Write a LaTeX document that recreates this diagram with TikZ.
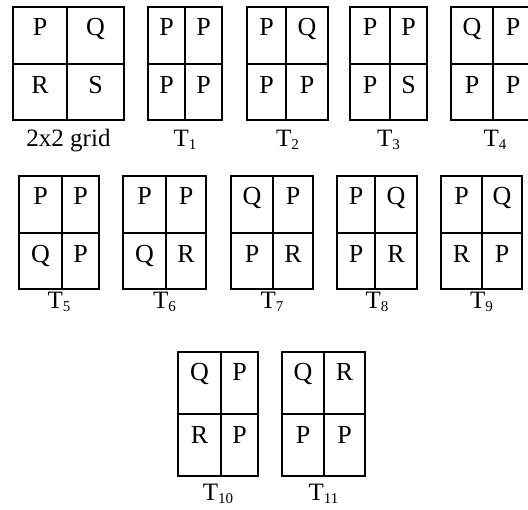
\documentclass[tikz,border=0pt]{standalone}
\usepackage{fontspec}
\setmainfont{Liberation Serif}
\tikzset{
  gridline/.style={line width=1.3pt, black},
  cell/.style={anchor=base, inner sep=0pt, font=\fontsize{26}{28}\selectfont},
  lab/.style={anchor=base, inner sep=0pt, font=\fontsize{25}{27}\selectfont},
}
\newcommand{\subx}[1]{{\fontsize{15}{15}\selectfont\raisebox{-3pt}{#1}}}
% #1 name, #2 x0, #3 xm, #4 x1, #5 label, #6-#9 letters (tl,tr,bl,br)
\newcommand{\tgrid}[9]{%
  \draw[gridline] (#2,\yA) rectangle (#4,\yC);
  \draw[gridline] (#3,\yA) -- (#3,\yC);
  \draw[gridline] (#2,\yB) -- (#4,\yB);
  \node[cell] (#1a) at ({(#2+#3)/2},{\yA+29}) {#6};
  \node[cell] (#1b) at ({(#3+#4)/2},{\yA+29}) {#7};
  \node[cell] (#1c) at ({(#2+#3)/2},{\yB+30}) {#8};
  \node[cell] (#1d) at ({(#3+#4)/2},{\yB+30}) {#9};
  \node[lab] (#1l) at ({(#2+#4)/2},\yL) {#5};
}
\begin{document}
\begin{tikzpicture}[x=1pt,y=-1pt]
\useasboundingbox (0,0) rectangle (528,510);
\clip (0,0) rectangle (528,510);
% row 1
\def\yA{7}\def\yB{64}\def\yC{120}\def\yL{147}
\tgrid{g}{13}{67}{124}{2x2 grid}{P}{Q}{R}{S}
\tgrid{ta}{148}{185}{222}{T\subx{1}}{P}{P}{P}{P}
\tgrid{tb}{247}{286}{328}{T\subx{2}}{P}{Q}{P}{P}
\tgrid{tc}{350}{390}{427}{T\subx{3}}{P}{P}{P}{S}
\draw[gridline] (451,\yA) rectangle (536,\yC);
\draw[gridline] (493,\yA) -- (493,\yC);
\draw[gridline] (451,\yB) -- (536,\yB);
\node[cell] (tda) at (472,{\yA+29}) {Q};
\node[cell] (tdb) at (513,{\yA+29}) {P};
\node[cell] (tdc) at (472,{\yB+30}) {P};
\node[cell] (tdd) at (513,{\yB+30}) {P};
\node[lab] (tdl) at (495,\yL) {T\subx{4}};
% row 2
\def\yA{176}\def\yB{233}\def\yC{289}\def\yL{309}
\tgrid{te}{19}{62}{99}{T\subx{5}}{P}{P}{Q}{P}
\tgrid{tf}{123}{166}{206}{T\subx{6}}{P}{P}{Q}{R}
\tgrid{tg}{231}{273}{313}{T\subx{7}}{Q}{P}{P}{R}
\tgrid{th}{337}{375}{417}{T\subx{8}}{P}{Q}{P}{R}
\tgrid{ti}{441}{482}{522}{T\subx{9}}{P}{Q}{R}{P}
% row 3
\def\yA{352}\def\yB{414}\def\yC{476}\def\yL{501}
\tgrid{tj}{178}{221}{258}{T\subx{10}}{Q}{P}{R}{P}
\tgrid{tk}{282}{324}{365}{T\subx{11}}{Q}{R}{P}{P}
\end{tikzpicture}
\end{document}
